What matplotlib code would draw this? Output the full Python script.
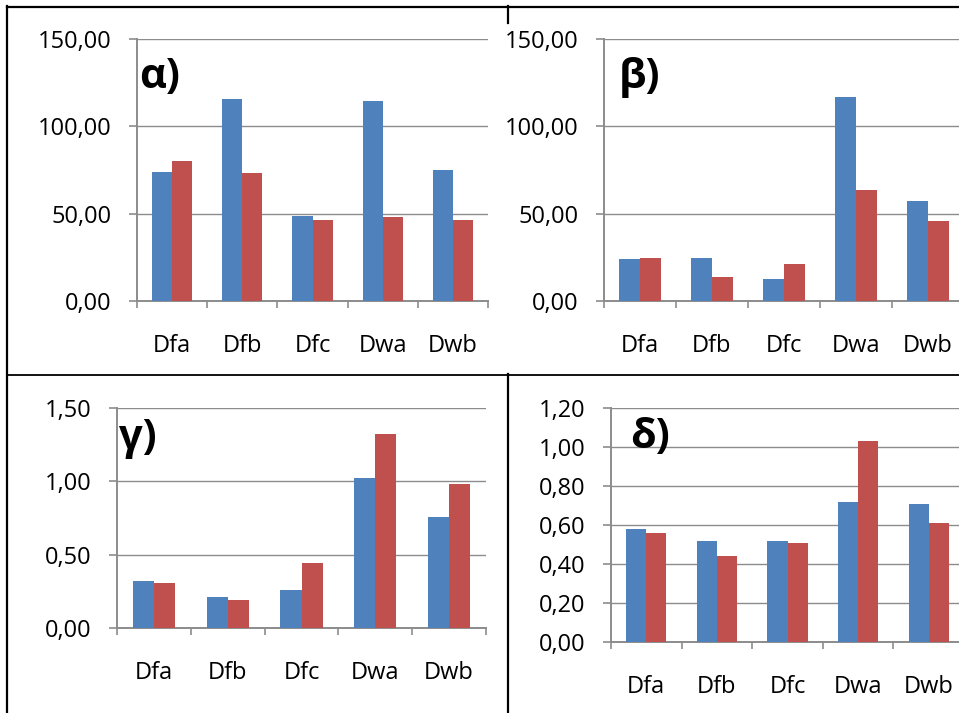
import matplotlib
matplotlib.use('Agg')
import matplotlib.pyplot as plt
import numpy as np
from matplotlib.lines import Line2D

plt.rcParams['font.family'] = ['Open Sans', 'DejaVu Sans']

# data
categories = ['Dfa', 'Dfb', 'Dfc', 'Dwa', 'Dwb']

alpha_blue = [73.8, 115.8, 48.7, 114.5, 75.1]
alpha_red = [80.3, 73.2, 46.6, 48.0, 46.4]
alpha_yticks = [0, 50, 100, 150]

beta_blue = [24.1, 24.5, 12.6, 116.9, 57.0]
beta_red = [24.9, 13.8, 20.9, 63.3, 45.7]
beta_yticks = [0, 50, 100, 150]

gamma_blue = [0.32, 0.21, 0.26, 1.02, 0.76]
gamma_red = [0.31, 0.19, 0.44, 1.32, 0.98]
gamma_yticks = [0, 0.5, 1.0, 1.5]

delta_blue = [0.58, 0.52, 0.52, 0.72, 0.71]
delta_red = [0.56, 0.44, 0.51, 1.03, 0.61]
delta_yticks = [0, 0.2, 0.4, 0.6, 0.8, 1.0, 1.2]

panel_labels = ['α)', 'β)', 'γ)', 'δ)']

W, H = 959, 713
BLUE = '#4F81BD'
RED = '#C0504D'
GRID = '#8C8C8C'


def px_box(x0, y0, x1, y1):
    # pixel box (top-left origin) -> figure fraction rect
    return [x0 / W, 1 - y1 / H, (x1 - x0) / W, (y1 - y0) / H]


def fmt(v):
    return ('%.2f' % v).replace('.', ',')


def bar_panel(fig, box, blue, red, yticks, label, label_xy):
    ax = fig.add_axes(px_box(*box))
    n = len(categories)
    x = np.arange(n) + 0.5
    w = 1 / 3.5
    ax.bar(x - w / 2, blue, w, color=BLUE, zorder=3)
    ax.bar(x + w / 2, red, w, color=RED, zorder=3)

    ax.set_xlim(0, n)
    ax.set_ylim(0, yticks[-1])
    ax.set_yticks(yticks, [fmt(v) for v in yticks])
    ax.set_xticks(x, categories)
    ax.set_xticks(np.arange(n + 1), minor=True)

    ax.yaxis.grid(True, color=GRID, lw=1.0, zorder=0)
    ax.set_axisbelow(True)
    for s in ['top', 'right']:
        ax.spines[s].set_visible(False)
    for s in ['left', 'bottom']:
        ax.spines[s].set_color(GRID)
        ax.spines[s].set_linewidth(1.4)

    ax.tick_params(axis='y', length=5.8, width=1.2, color=GRID, pad=12.5,
                   labelsize=17, labelcolor='black')
    ax.tick_params(axis='x', which='major', length=0, pad=23.5,
                   labelsize=17, labelcolor='black')
    ax.tick_params(axis='x', which='minor', length=5, width=1.2, color=GRID)

    fig.text(label_xy[0] / W, 1 - label_xy[1] / H, label, fontsize=30,
             fontweight='bold', ha='left', va='center')
    return ax


def main():
    fig = plt.figure(figsize=(W / 100, H / 100), dpi=100)

    bar_panel(fig, (137, 39, 488, 301), alpha_blue, alpha_red, alpha_yticks,
              panel_labels[0], (139, 78))
    bar_panel(fig, (604, 39, 964, 301), beta_blue, beta_red, beta_yticks,
              panel_labels[1], (619, 77))
    bar_panel(fig, (117, 408, 486, 628), gamma_blue, gamma_red, gamma_yticks,
              panel_labels[2], (119, 439))
    bar_panel(fig, (611, 408, 964, 642), delta_blue, delta_red, delta_yticks,
              panel_labels[3], (630, 438))

    # table borders around the charts
    def hline(y, x0, x1, lw=1.6):
        fig.add_artist(Line2D([x0 / W, x1 / W], [1 - y / H, 1 - y / H],
                              color='black', lw=lw))

    def vline(x, y0, y1, lw=1.6):
        fig.add_artist(Line2D([x / W, x / W], [1 - y0 / H, 1 - y1 / H],
                              color='black', lw=lw))

    hline(6.7, 7, W)
    vline(7.3, 6, H)
    vline(508, 6, 22.5)
    hline(374.5, 7, W, lw=1.3)
    vline(508, 374, H)

    fig.savefig('out.png', dpi=100)


if __name__ == '__main__':
    main()
